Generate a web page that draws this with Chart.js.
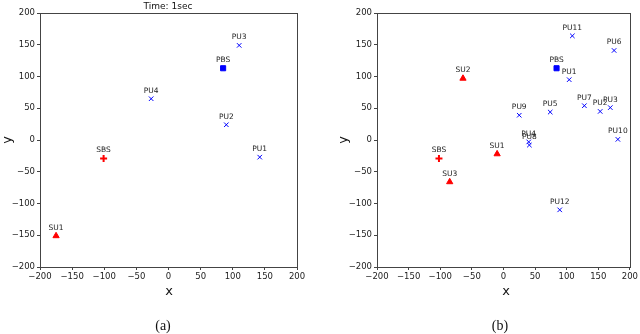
<!DOCTYPE html>
<html>
<head>
<meta charset="utf-8">
<script src="https://cdn.jsdelivr.net/npm/chart.js@4.4.1/dist/chart.umd.min.js"></script>
<style>
body{margin:0;background:#fff;}
#wrap{position:relative;width:640px;height:334px;overflow:hidden;font-family:"DejaVu Sans",sans-serif;color:#111;}
canvas{position:absolute;top:0;}
.lbl{position:absolute;transform:translate(-50%,-50%);white-space:nowrap;line-height:1;}
.cap{font-family:"Liberation Serif",serif;font-size:14px;}
.rot{transform:translate(-50%,-50%) rotate(-90deg);}
</style>
</head>
<body>
<div id="wrap">
  <canvas id="chartA" width="320" height="334" style="left:0"></canvas>
  <canvas id="chartB" width="320" height="334" style="left:320px"></canvas>
  <div class="lbl" style="left:168px;top:6px;font-size:9px">Time: 1sec</div>
  <div class="lbl" style="left:169px;top:290px;font-size:13px">x</div>
  <div class="lbl" style="left:506px;top:290px;font-size:13px">x</div>
  <div class="lbl rot" style="left:6px;top:140px;font-size:13px">y</div>
  <div class="lbl rot" style="left:342px;top:140px;font-size:13px">y</div>
  <div class="lbl cap" style="left:163px;top:326px">(a)</div>
  <div class="lbl cap" style="left:500px;top:326px">(b)</div>
</div>
<script>
const tickValues = [-200, -150, -100, -50, 0, 50, 100, 150, 200];

// (a) Time: 1sec
const aPuNames = ['PU1', 'PU2', 'PU3', 'PU4'];
const aPuX = [142, 90, 110, -27];
const aPuY = [-27, 24, 149, 65];
const aSuNames = ['SU1'];
const aSuX = [-175];
const aSuY = [-151];
const aPbs = [85, 113];
const aSbs = [-101, -29];

// (b)
const bPuNames = ['PU1', 'PU2', 'PU3', 'PU4', 'PU5', 'PU6', 'PU7', 'PU8', 'PU9', 'PU10', 'PU11', 'PU12'];
const bPuX = [104, 153, 169, 40, 74, 175, 128, 41, 25, 181, 109, 89];
const bPuY = [95, 45, 51, -3, 44, 141, 54, -8, 39, 1, 164, -110];
const bSuNames = ['SU1', 'SU2', 'SU3'];
const bSuX = [-10, -64, -85];
const bSuY = [-22, 97, -66];
const bPbs = [84, 113];
const bSbs = [-102, -29];

const toPts = (xs, ys) => xs.map((x, i) => ({x: x, y: ys[i]}));
const fmt = v => (v < 0 ? '\u2212' + Math.abs(v) : String(v));

// names above each marker
const nameLabels = {
    id: 'nameLabels',
    afterDatasetsDraw(chart) {
        const ctx = chart.ctx;
        ctx.save();
        ctx.font = '7.5px "DejaVu Sans"';
        ctx.fillStyle = '#222';
        ctx.textAlign = 'center';
        ctx.textBaseline = 'middle';
        chart.data.datasets.forEach((ds, d) => {
            chart.getDatasetMeta(d).data.forEach((pt, i) => {
                ctx.fillText(ds.names[i], pt.x, pt.y - 8);
            });
        });
        ctx.restore();
    }
};

// box around the plot, like matplotlib spines
const frame = {
    id: 'frame',
    afterDraw(chart) {
        const a = chart.chartArea;
        const ctx = chart.ctx;
        ctx.save();
        ctx.strokeStyle = '#444';
        ctx.lineWidth = 1;
        ctx.strokeRect(Math.round(a.left) + 0.5, Math.round(a.top) + 0.5,
            Math.round(a.right - a.left), Math.round(a.bottom - a.top));
        ctx.restore();
    }
};

function axis(fit) {
    return {
        type: 'linear',
        min: -200,
        max: 200,
        afterBuildTicks: s => { s.ticks = tickValues.map(v => ({value: v})); },
        afterFit: fit,
        grid: {drawOnChartArea: false, drawTicks: true, tickLength: 3, color: '#444'},
        border: {display: false},
        ticks: {
            font: {family: 'DejaVu Sans', size: 8.5},
            color: '#222',
            padding: 2,
            maxRotation: 0,
            autoSkip: false,
            callback: v => fmt(v)
        }
    };
}

function makeChart(id, puN, puX, puY, suN, suX, suY, pbs, sbs, padLeft, padRight) {
    new Chart(document.getElementById(id), {
        type: 'scatter',
        data: {
            datasets: [
                {
                    names: ['PBS'], data: [{x: pbs[0], y: pbs[1]}],
                    pointStyle: 'rect', pointRadius: 3.6,
                    backgroundColor: '#0000ff', borderColor: '#0000ff', borderWidth: 1
                },
                {
                    names: ['SBS'], data: [{x: sbs[0], y: sbs[1]}],
                    pointStyle: 'cross', pointRadius: 3.5,
                    borderColor: '#ff0000', borderWidth: 2
                },
                {
                    names: puN, data: toPts(puX, puY),
                    pointStyle: 'crossRot', pointRadius: 3.2,
                    borderColor: '#0000ff', borderWidth: 1
                },
                {
                    names: suN, data: toPts(suX, suY),
                    pointStyle: 'triangle', pointRadius: 3.6,
                    backgroundColor: '#ff0000', borderColor: '#ff0000', borderWidth: 1
                }
            ]
        },
        options: {
            responsive: false,
            animation: false,
            layout: {autoPadding: false, padding: {left: padLeft, right: padRight, top: 13, bottom: 0}},
            plugins: {legend: {display: false}, tooltip: {enabled: false}},
            scales: {
                x: axis(s => { s.height = 67; }),
                y: axis(s => { s.width = 40; })
            }
        },
        plugins: [nameLabels, frame]
    });
}

makeChart('chartA', aPuNames, aPuX, aPuY, aSuNames, aSuX, aSuY, aPbs, aSbs, 0, 23);
makeChart('chartB', bPuNames, bPuX, bPuY, bSuNames, bSuX, bSuY, bPbs, bSbs, 17, 7);
</script>
</body>
</html>
